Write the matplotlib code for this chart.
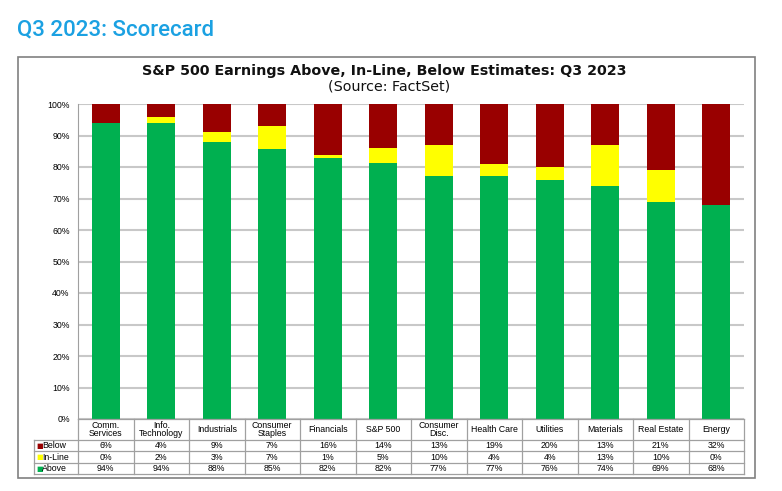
import numpy as np
import matplotlib.pyplot as plt
from matplotlib.patches import Rectangle
from matplotlib.lines import Line2D

plt.rcParams['font.family'] = ['Liberation Sans', 'DejaVu Sans']

sectors = ['Comm.\nServices', 'Info.\nTechnology', 'Industrials', 'Consumer\nStaples',
           'Financials', 'S&P 500', 'Consumer\nDisc.', 'Health Care', 'Utilities',
           'Materials', 'Real Estate', 'Energy']
below = [6, 4, 9, 7, 16, 14, 13, 19, 20, 13, 21, 32]
inline = [0, 2, 3, 7, 1, 5, 10, 4, 4, 13, 10, 0]
above = [94, 94, 88, 85, 82, 82, 77, 77, 76, 74, 69, 68]
yticks = [0, 10, 20, 30, 40, 50, 60, 70, 80, 90, 100]

c_below = '#990000'
c_inline = '#FFFF00'
c_above = '#00B050'

W, H = 782, 491
fig = plt.figure(figsize=(W / 100, H / 100), dpi=100)

def fx(px):
    return px / W

def fy(py):
    return 1 - py / H

# page header and outer frame
fig.text(fx(17), fy(30), 'Q3 2023: Scorecard', color='#1BA1E2', fontsize=16,
         family=['Roboto', 'DejaVu Sans'], weight='medium', va='center', ha='left')
fig.add_artist(Rectangle((fx(18), fy(478)), fx(755) - fx(18), fy(57) - fy(478),
                         transform=fig.transFigure, fill=False, ec='#808080', lw=1.2))

fig.text(fx(384), fy(71), 'S&P 500 Earnings Above, In-Line, Below Estimates: Q3 2023',
         ha='center', va='center', fontsize=10.3, weight='bold', family='DejaVu Sans',
         color='#111111')
fig.text(fx(389), fy(87), '(Source: FactSet)', ha='center', va='center', fontsize=10.3,
         family='DejaVu Sans', color='#111111')

x0, x1, ytop, ybot = 78, 744, 104, 419
ax = fig.add_axes([fx(x0), fy(ybot), fx(x1) - fx(x0), fy(ytop) - fy(ybot)])
x = np.arange(len(sectors))
a = np.array(above, float)
i = np.array(inline, float)
b = np.array(below, float)
# rounded shares do not always add to 100, so scale each column to 100
tot = a + i + b
a, i, b = a / tot * 100, i / tot * 100, b / tot * 100
ax.bar(x, a, width=0.5, color=c_above, zorder=3)
ax.bar(x, i, width=0.5, bottom=a, color=c_inline, zorder=3)
ax.bar(x, b, width=0.5, bottom=a + i, color=c_below, zorder=3)
ax.set_xlim(-0.5, len(sectors) - 0.5)
ax.set_ylim(0, 100)
ax.set_yticks(yticks)
ax.set_yticklabels([f'{t}%' for t in yticks], fontsize=6.3)
ax.set_xticks([])
ax.yaxis.grid(True, color='#C8C8C8', lw=1.5, zorder=0)
ax.tick_params(axis='y', length=0, pad=6)
for s in ['top', 'right', 'bottom']:
    ax.spines[s].set_visible(False)
ax.spines['left'].set_color('#A0A0A0')

# data table under the chart
colw = (x1 - x0) / len(sectors)
rows = [('Below', c_below, below), ('In-Line', c_inline, inline), ('Above', c_above, above)]
hdr_bot = 440
row_h = 11.4
tab_bot = hdr_bot + 3 * row_h
lc = '#A0A0A0'

def hline(px0, px1, py):
    fig.add_artist(Line2D([fx(px0), fx(px1)], [fy(py), fy(py)], color=lc, lw=0.9,
                          transform=fig.transFigure))

def vline(px, py0, py1):
    fig.add_artist(Line2D([fx(px), fx(px)], [fy(py0), fy(py1)], color=lc, lw=0.9,
                          transform=fig.transFigure))

hline(x0, x1, ybot)
for k in range(4):
    hline(34, x1, hdr_bot + k * row_h)
for k in range(len(sectors) + 1):
    vline(x0 + k * colw, ybot, tab_bot)
vline(34, hdr_bot, tab_bot)

for k, name in enumerate(sectors):
    cx = x0 + (k + 0.5) * colw
    fig.text(fx(cx), fy((ybot + hdr_bot) / 2), name, ha='center', va='center',
             fontsize=6.3, linespacing=0.95)

for r, (lab, col, vals) in enumerate(rows):
    cy = hdr_bot + (r + 0.5) * row_h
    fig.text(fx(36), fy(cy), '■', color=col, fontsize=5, ha='left', va='center',
             family='DejaVu Sans')
    fig.text(fx(42), fy(cy), lab, fontsize=6.3, ha='left', va='center')
    for k, v in enumerate(vals):
        fig.text(fx(x0 + (k + 0.5) * colw), fy(cy), f'{v}%', fontsize=6.3,
                 ha='center', va='center')

fig.savefig('out.png', dpi=100)
